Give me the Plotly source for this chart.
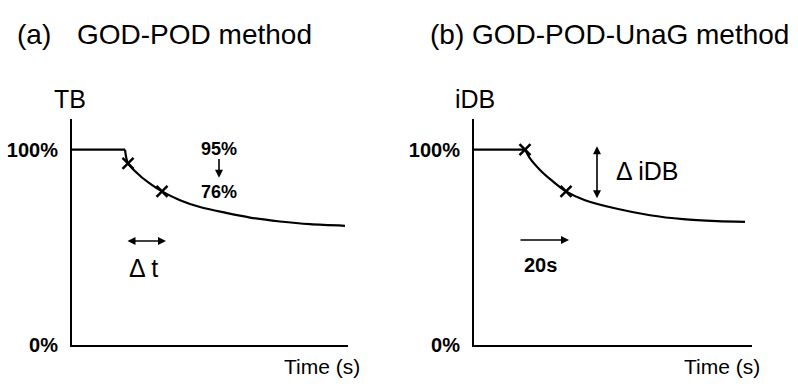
import plotly.graph_objects as go

# ---- data (time in s, signal in %) ----
# panel (a): TB
flat_time_a = [0, 21.2]
flat_tb_a = [100, 100]
decay_time_a = [21.2, 22.4, 27.2, 31.2, 36.0, 43.2, 51.2, 61.2, 71.2, 83.2, 95.2, 109.2]
decay_tb_a = [100, 93.0, 86.6, 82.6, 78.6, 74.1, 70.6, 67.7, 65.2, 63.2, 61.8, 61.0]
mark_time_a = [22.4, 36.0]
mark_tb_a = [93.0, 78.6]

# panel (b): iDB
flat_time_b = [0, 20.4]
flat_idb_b = [100, 100]
decay_time_b = [20.4, 22.4, 26.4, 31.2, 36.8, 44.4, 57.2, 70.4, 83.6, 97.2, 108.4]
decay_idb_b = [100, 95.5, 89.6, 84.1, 78.6, 74.1, 69.7, 66.4, 64.4, 63.4, 63.0]
mark_time_b = [20.4, 36.8]
mark_idb_b = [100, 78.6]

ytick_vals = [0, 100]
ytick_text = ["0%", "100%"]

FONT = "Liberation Sans, Arial, sans-serif"
W, H = 798, 388

fig = go.Figure()

for fx, fy, dx, dy, mx, my, xa, ya in [
    (flat_time_a, flat_tb_a, decay_time_a, decay_tb_a, mark_time_a, mark_tb_a, "x", "y"),
    (flat_time_b, flat_idb_b, decay_time_b, decay_idb_b, mark_time_b, mark_idb_b, "x2", "y2"),
]:
    fig.add_trace(go.Scatter(x=fx, y=fy, mode="lines", xaxis=xa, yaxis=ya,
                             line=dict(color="black", width=2.2),
                             showlegend=False, hoverinfo="skip"))
    fig.add_trace(go.Scatter(x=dx, y=dy, mode="lines", xaxis=xa, yaxis=ya,
                             line=dict(color="black", width=2.2, shape="spline", smoothing=0.8),
                             showlegend=False, hoverinfo="skip"))
    fig.add_trace(go.Scatter(x=mx, y=my, mode="markers", xaxis=xa, yaxis=ya,
                             marker=dict(symbol="x-thin", size=11, line=dict(color="black", width=2.5)),
                             showlegend=False, hoverinfo="skip"))

ydom = [(388 - 355) / H, (388 - 122) / H]
axis_common = dict(showline=True, linecolor="black", linewidth=2, showgrid=False,
                   zeroline=False, mirror=False)
tickfont = dict(family=FONT, size=20, color="black", weight="bold")
fig.update_layout(
    width=W, height=H, margin=dict(l=0, r=0, t=0, b=0),
    paper_bgcolor="white", plot_bgcolor="white",
    xaxis=dict(domain=[72 / W, 348 / W], range=[0, 110.4], showticklabels=False, ticks="", **axis_common),
    yaxis=dict(domain=ydom, range=[0, 115.9], tickvals=ytick_vals, ticktext=ytick_text,
               ticks="", ticklabelstandoff=8, tickfont=tickfont, **axis_common),
    xaxis2=dict(domain=[474 / W, 752 / W], range=[0, 111.2], showticklabels=False, ticks="", anchor="y2", **axis_common),
    yaxis2=dict(domain=ydom, range=[0, 115.9], tickvals=ytick_vals, ticktext=ytick_text,
                ticks="", ticklabelstandoff=8, anchor="x2", tickfont=tickfont, **axis_common),
)

ann = []

def txt(text, x, y, size, xref="paper", yref="paper", xanchor="center", bold=False):
    ann.append(dict(text=text, x=x, y=y, xref=xref, yref=yref, xanchor=xanchor, yanchor="middle",
                    showarrow=False,
                    font=dict(family=FONT, size=size, color="black", weight="bold" if bold else "normal")))

def arrow(xh, yh, xt, yt, xref, yref, both=False):
    ann.append(dict(text="", x=xh, y=yh, ax=xt, ay=yt, xref=xref, yref=yref, axref=xref, ayref=yref,
                    showarrow=True, arrowhead=2, arrowsize=1, arrowwidth=1.6, arrowcolor="black",
                    arrowside="end+start" if both else "end", standoff=0, startstandoff=0))

# titles
txt("(a)", 34 / W, (H - 36) / H, 28)
txt("GOD-POD method", 75 / W, (H - 36) / H, 28, xanchor="left")
txt("(b) GOD-POD-UnaG method", 428 / W, (H - 36) / H, 28, xanchor="left")
txt("TB", 52 / W, (H - 102) / H, 25, xanchor="left")
txt("iDB", 453 / W, (H - 102) / H, 25, xanchor="left")
txt("Time (s)", 322 / W, (H - 377) / H, 21)
txt("Time (s)", 722 / W, (H - 377) / H, 21)

# panel (a) annotations
txt("95%", 58.8, 100.5, 18, "x", "y", bold=True)
txt("76%", 58.8, 78.4, 18, "x", "y", bold=True)
arrow(58.8, 85.6, 58.8, 96.0, "x", "y")
arrow(37.6, 53.2, 21.6, 53.2, "x", "y", both=True)
txt("Δ t", 28.4, 39.3, 25, "x", "y")

# panel (b) annotations
arrow(49.2, 75.1, 49.2, 102.5, "x2", "y2", both=True)
txt("Δ iDB", 69.2, 89.1, 25, "x2", "y2")
arrow(38.0, 53.7, 18.0, 53.7, "x2", "y2")
txt("20s", 26.4, 40.8, 20, "x2", "y2", bold=True)

fig.update_layout(annotations=ann)
fig.write_html("out.html")
